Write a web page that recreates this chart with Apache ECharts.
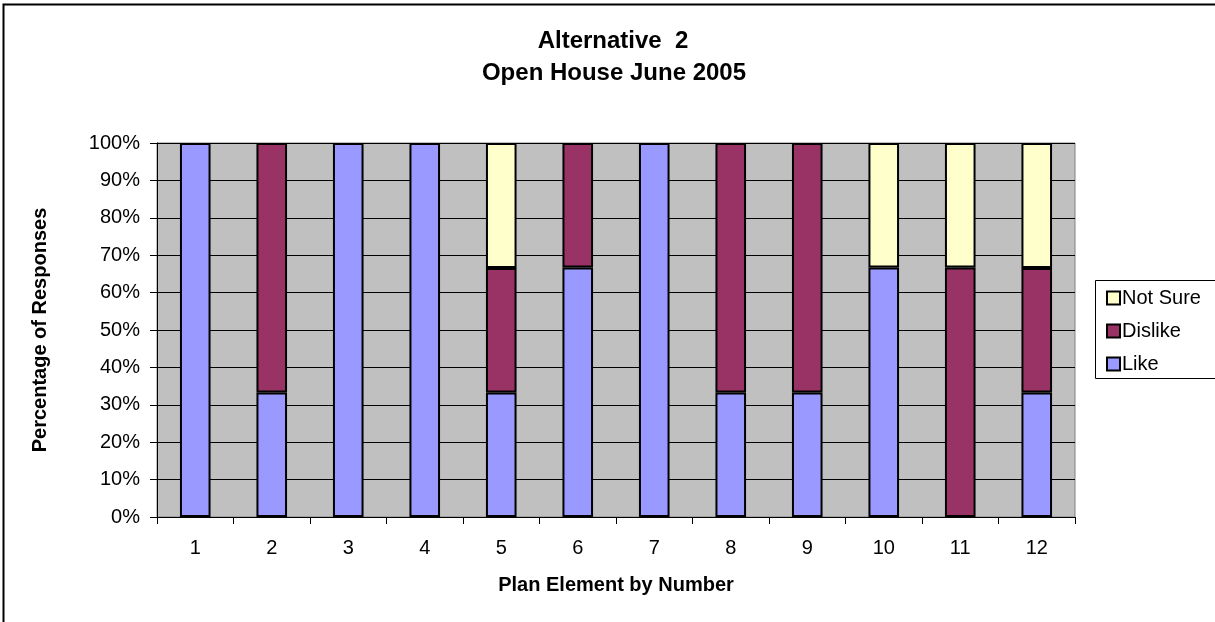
<!DOCTYPE html>
<html><head><meta charset="utf-8">
<script src="https://cdn.jsdelivr.net/npm/echarts@6/dist/echarts.min.js"></script>
<style>html,body{margin:0;padding:0;background:#fff}#c{width:1215px;height:622px}</style>
</head><body><div id="c"></div>
<script>
const categories = ['1','2','3','4','5','6','7','8','9','10','11','12'];
const like     = [100, 33.3, 100, 100, 33.3, 66.7, 100, 33.3, 33.3, 66.7, 0, 33.3];
const dislike  = [0, 66.7, 0, 0, 33.3, 33.3, 0, 66.7, 66.7, 0, 66.7, 33.3];
const notSure  = [0, 0, 0, 0, 33.4, 0, 0, 0, 0, 33.3, 33.3, 33.4];
const seriesNames = ['Like', 'Dislike', 'Not Sure'];
const colors = ['#9999FF', '#993366', '#FFFFCC'];
const titleLines = ['Alternative  2', 'Open House June 2005'];

const F = '"Liberation Sans", Arial, sans-serif';
const chart = echarts.init(document.getElementById('c'), null, {renderer: 'canvas'});
function mk(name, data, color) {
  return {
    name, type: 'bar', stack: 'a', data: data.map(v => (v === 0 ? null : v)), barWidth: '40%',
    itemStyle: {color, borderColor: '#000', borderWidth: 2},
    emphasis: {disabled: true}
  };
}
chart.setOption({
  animation: false,
  textStyle: {fontFamily: F},
  graphic: [
    {type: 'rect', shape: {x: 3.5, y: 4.5, width: 1300, height: 700}, style: {fill: 'none', stroke: '#000', lineWidth: 2}, z: 100},
    {type: 'text', x: 613, y: 41, style: {text: titleLines[0], font: 'bold 24px ' + F, fill: '#000', textAlign: 'center', textVerticalAlign: 'middle'}},
    {type: 'text', x: 614, y: 73, style: {text: titleLines[1], font: 'bold 24px ' + F, fill: '#000', textAlign: 'center', textVerticalAlign: 'middle'}},
    {type: 'rect', shape: {x: 1095.5, y: 280.5, width: 200, height: 98}, style: {fill: '#fff', stroke: '#000', lineWidth: 1}, z: 1}
  ],
  grid: {left: 157, right: 140, top: 143, bottom: 105, show: true, backgroundColor: '#C0C0C0', borderColor: '#808080', borderWidth: 1},
  legend: {
    data: ['Not Sure', 'Dislike', 'Like'], orient: 'vertical', left: 1101, top: 283, itemGap: 13,
    itemWidth: 13, itemHeight: 13, icon: 'rect',
    itemStyle: {borderColor: '#000', borderWidth: 2},
    textStyle: {fontSize: 20, fontFamily: F, color: '#000', padding: [0, 0, 0, -3]}, z: 5
  },
  xAxis: {
    type: 'category', data: categories,
    name: 'Plan Element by Number', nameLocation: 'middle', nameGap: 58,
    nameTextStyle: {fontWeight: 'bold', fontSize: 20, color: '#000', fontFamily: F},
    axisLine: {lineStyle: {color: '#000', width: 1}},
    axisTick: {show: true, length: 7, lineStyle: {color: '#000'}, alignWithLabel: false},
    axisLabel: {fontSize: 20, color: '#000', margin: 21, fontFamily: F}
  },
  yAxis: {
    type: 'value', min: 0, max: 100, interval: 10,
    name: 'Percentage of Responses', nameLocation: 'middle', nameGap: 107, nameRotate: 90,
    nameTextStyle: {fontWeight: 'bold', fontSize: 20, color: '#000', fontFamily: F},
    axisLine: {show: true, lineStyle: {color: '#000', width: 1}},
    axisTick: {show: true, length: 7, lineStyle: {color: '#000'}},
    axisLabel: {formatter: '{value}%', fontSize: 20, color: '#000', margin: 17, fontFamily: F},
    splitLine: {lineStyle: {color: '#000', width: 1}}
  },
  series: [mk(seriesNames[0], like, colors[0]), mk(seriesNames[1], dislike, colors[1]), mk(seriesNames[2], notSure, colors[2])]
});
</script></body></html>
